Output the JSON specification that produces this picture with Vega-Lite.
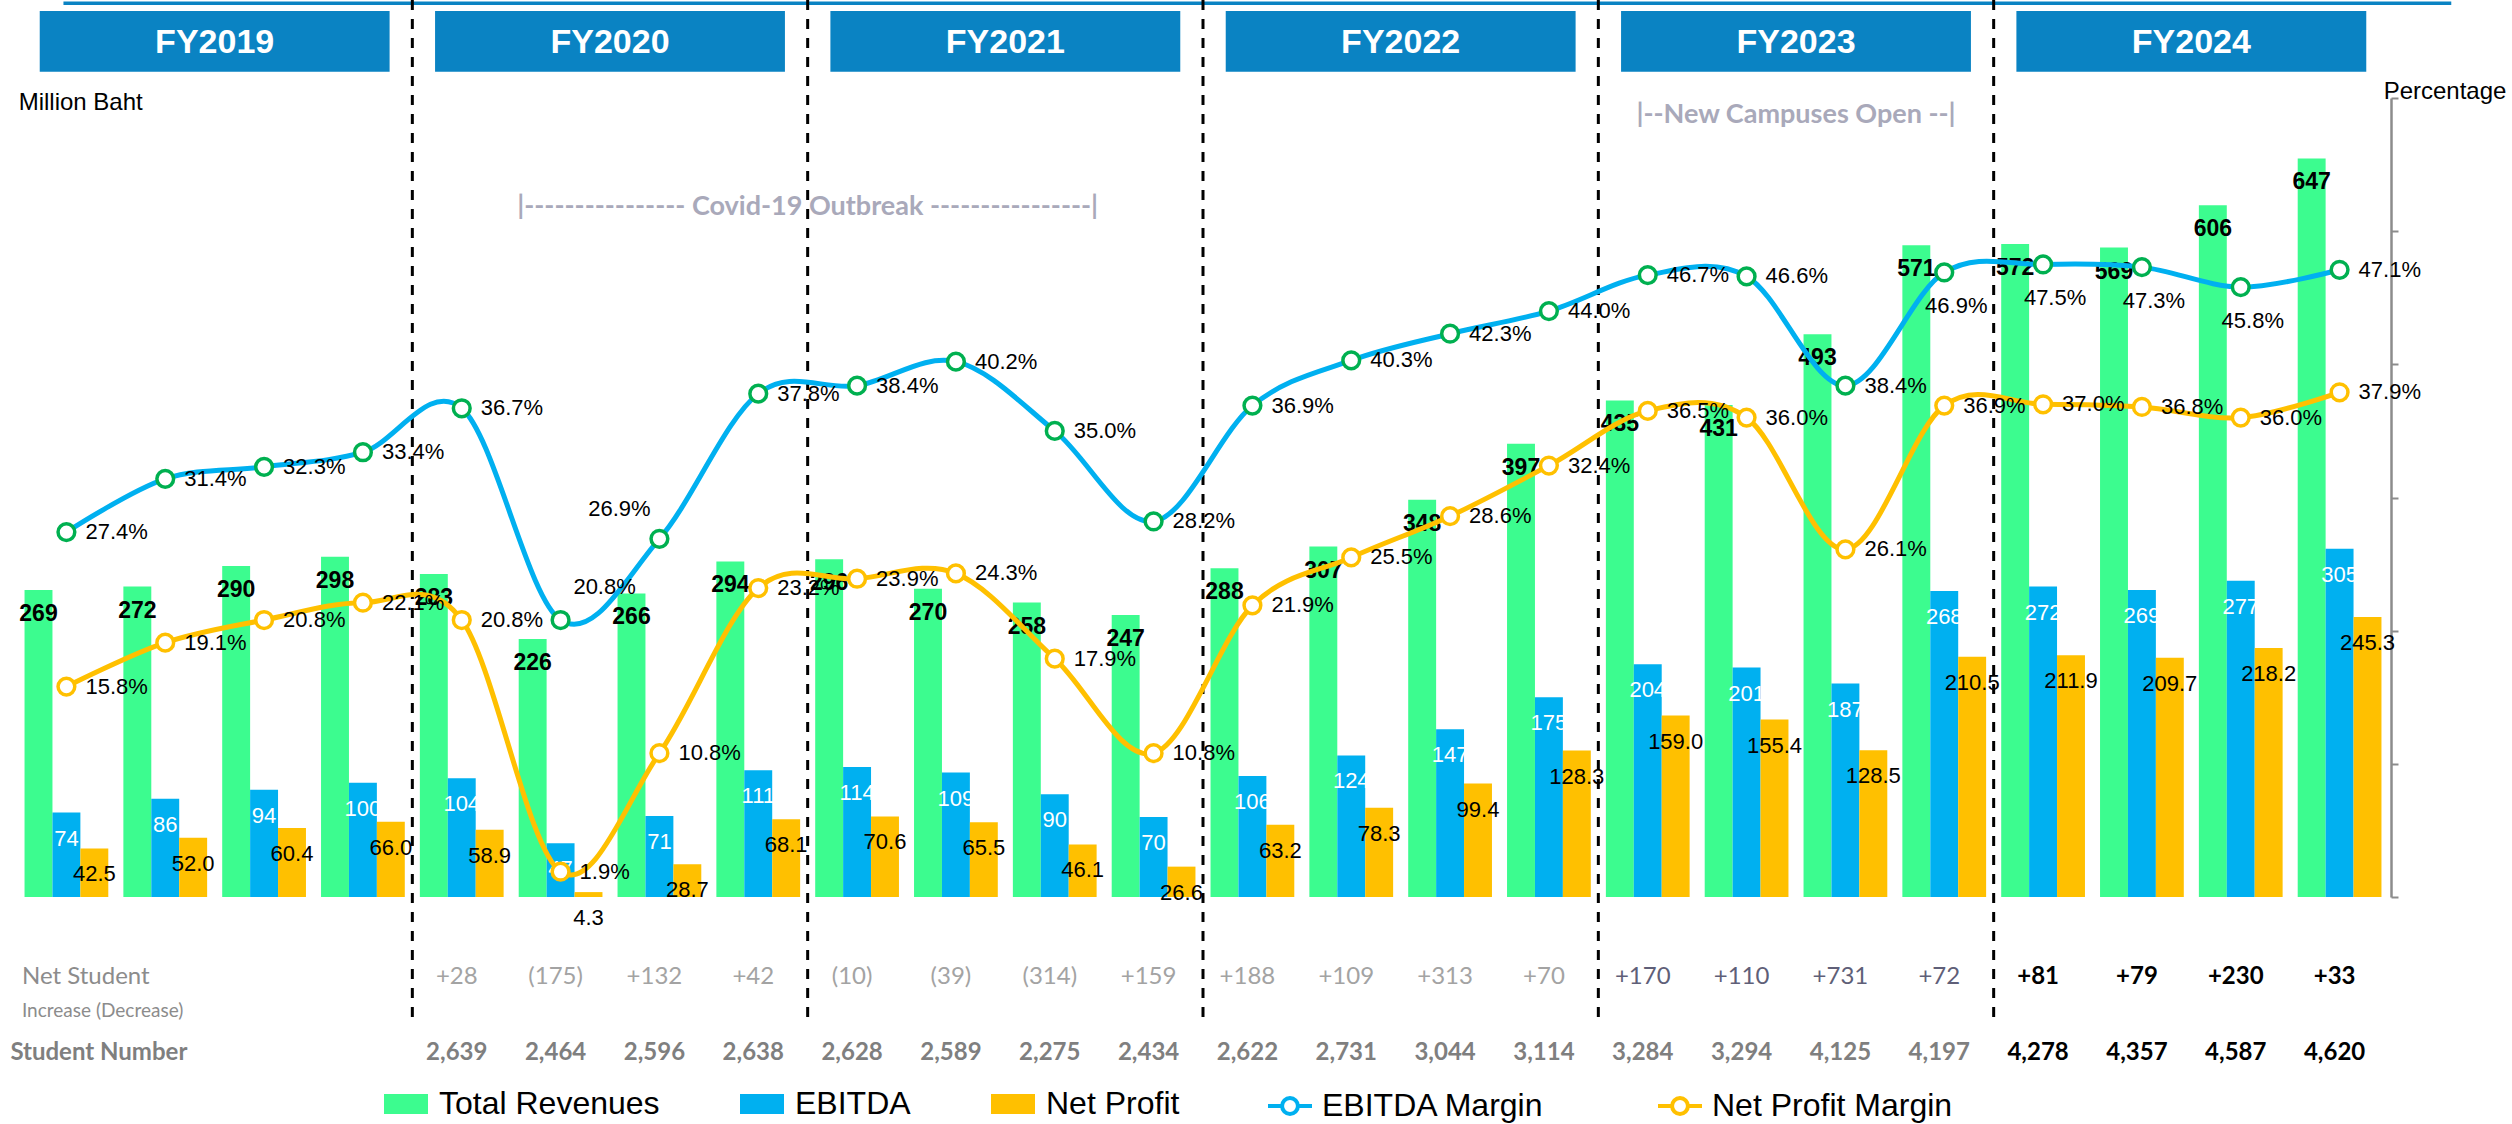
{
  "$schema": "https://vega.github.io/schema/vega-lite/v6.json",
  "width": 2372,
  "height": 799,
  "autosize": {"type": "none"},
  "padding": {"left": 17, "top": 98, "right": 123, "bottom": 227},
  "background": "white",
  "config": {"view": {"stroke": null}, "font": "Liberation Sans"},
  "datasets": {
    "bars": [
      {"quarter": "Q1-19", "series": "Total Revenues", "value": 269}, {"quarter": "Q1-19", "series": "EBITDA", "value": 74}, {"quarter": "Q1-19", "series": "Net Profit", "value": 42.5},
      {"quarter": "Q2-19", "series": "Total Revenues", "value": 272}, {"quarter": "Q2-19", "series": "EBITDA", "value": 86}, {"quarter": "Q2-19", "series": "Net Profit", "value": 52.0},
      {"quarter": "Q3-19", "series": "Total Revenues", "value": 290}, {"quarter": "Q3-19", "series": "EBITDA", "value": 94}, {"quarter": "Q3-19", "series": "Net Profit", "value": 60.4},
      {"quarter": "Q4-19", "series": "Total Revenues", "value": 298}, {"quarter": "Q4-19", "series": "EBITDA", "value": 100}, {"quarter": "Q4-19", "series": "Net Profit", "value": 66.0},
      {"quarter": "Q1-20", "series": "Total Revenues", "value": 283}, {"quarter": "Q1-20", "series": "EBITDA", "value": 104}, {"quarter": "Q1-20", "series": "Net Profit", "value": 58.9},
      {"quarter": "Q2-20", "series": "Total Revenues", "value": 226}, {"quarter": "Q2-20", "series": "EBITDA", "value": 47}, {"quarter": "Q2-20", "series": "Net Profit", "value": 4.3},
      {"quarter": "Q3-20", "series": "Total Revenues", "value": 266}, {"quarter": "Q3-20", "series": "EBITDA", "value": 71}, {"quarter": "Q3-20", "series": "Net Profit", "value": 28.7},
      {"quarter": "Q4-20", "series": "Total Revenues", "value": 294}, {"quarter": "Q4-20", "series": "EBITDA", "value": 111}, {"quarter": "Q4-20", "series": "Net Profit", "value": 68.1},
      {"quarter": "Q1-21", "series": "Total Revenues", "value": 296}, {"quarter": "Q1-21", "series": "EBITDA", "value": 114}, {"quarter": "Q1-21", "series": "Net Profit", "value": 70.6},
      {"quarter": "Q2-21", "series": "Total Revenues", "value": 270}, {"quarter": "Q2-21", "series": "EBITDA", "value": 109}, {"quarter": "Q2-21", "series": "Net Profit", "value": 65.5},
      {"quarter": "Q3-21", "series": "Total Revenues", "value": 258}, {"quarter": "Q3-21", "series": "EBITDA", "value": 90}, {"quarter": "Q3-21", "series": "Net Profit", "value": 46.1},
      {"quarter": "Q4-21", "series": "Total Revenues", "value": 247}, {"quarter": "Q4-21", "series": "EBITDA", "value": 70}, {"quarter": "Q4-21", "series": "Net Profit", "value": 26.6},
      {"quarter": "Q1-22", "series": "Total Revenues", "value": 288}, {"quarter": "Q1-22", "series": "EBITDA", "value": 106}, {"quarter": "Q1-22", "series": "Net Profit", "value": 63.2},
      {"quarter": "Q2-22", "series": "Total Revenues", "value": 307}, {"quarter": "Q2-22", "series": "EBITDA", "value": 124}, {"quarter": "Q2-22", "series": "Net Profit", "value": 78.3},
      {"quarter": "Q3-22", "series": "Total Revenues", "value": 348}, {"quarter": "Q3-22", "series": "EBITDA", "value": 147}, {"quarter": "Q3-22", "series": "Net Profit", "value": 99.4},
      {"quarter": "Q4-22", "series": "Total Revenues", "value": 397}, {"quarter": "Q4-22", "series": "EBITDA", "value": 175}, {"quarter": "Q4-22", "series": "Net Profit", "value": 128.3},
      {"quarter": "Q1-23", "series": "Total Revenues", "value": 435}, {"quarter": "Q1-23", "series": "EBITDA", "value": 204}, {"quarter": "Q1-23", "series": "Net Profit", "value": 159.0},
      {"quarter": "Q2-23", "series": "Total Revenues", "value": 431}, {"quarter": "Q2-23", "series": "EBITDA", "value": 201}, {"quarter": "Q2-23", "series": "Net Profit", "value": 155.4},
      {"quarter": "Q3-23", "series": "Total Revenues", "value": 493}, {"quarter": "Q3-23", "series": "EBITDA", "value": 187}, {"quarter": "Q3-23", "series": "Net Profit", "value": 128.5},
      {"quarter": "Q4-23", "series": "Total Revenues", "value": 571}, {"quarter": "Q4-23", "series": "EBITDA", "value": 268}, {"quarter": "Q4-23", "series": "Net Profit", "value": 210.5},
      {"quarter": "Q1-24", "series": "Total Revenues", "value": 572}, {"quarter": "Q1-24", "series": "EBITDA", "value": 272}, {"quarter": "Q1-24", "series": "Net Profit", "value": 211.9},
      {"quarter": "Q2-24", "series": "Total Revenues", "value": 569}, {"quarter": "Q2-24", "series": "EBITDA", "value": 269}, {"quarter": "Q2-24", "series": "Net Profit", "value": 209.7},
      {"quarter": "Q3-24", "series": "Total Revenues", "value": 606}, {"quarter": "Q3-24", "series": "EBITDA", "value": 277}, {"quarter": "Q3-24", "series": "Net Profit", "value": 218.2},
      {"quarter": "Q4-24", "series": "Total Revenues", "value": 647}, {"quarter": "Q4-24", "series": "EBITDA", "value": 305}, {"quarter": "Q4-24", "series": "Net Profit", "value": 245.3}
    ],
    "margins": [
      {"quarter": "Q1-19", "series": "EBITDA Margin", "value": 0.274}, {"quarter": "Q1-19", "series": "Net Profit Margin", "value": 0.158},
      {"quarter": "Q2-19", "series": "EBITDA Margin", "value": 0.314}, {"quarter": "Q2-19", "series": "Net Profit Margin", "value": 0.191},
      {"quarter": "Q3-19", "series": "EBITDA Margin", "value": 0.323}, {"quarter": "Q3-19", "series": "Net Profit Margin", "value": 0.208},
      {"quarter": "Q4-19", "series": "EBITDA Margin", "value": 0.334}, {"quarter": "Q4-19", "series": "Net Profit Margin", "value": 0.221},
      {"quarter": "Q1-20", "series": "EBITDA Margin", "value": 0.367}, {"quarter": "Q1-20", "series": "Net Profit Margin", "value": 0.208},
      {"quarter": "Q2-20", "series": "EBITDA Margin", "value": 0.208}, {"quarter": "Q2-20", "series": "Net Profit Margin", "value": 0.019},
      {"quarter": "Q3-20", "series": "EBITDA Margin", "value": 0.269}, {"quarter": "Q3-20", "series": "Net Profit Margin", "value": 0.108},
      {"quarter": "Q4-20", "series": "EBITDA Margin", "value": 0.378}, {"quarter": "Q4-20", "series": "Net Profit Margin", "value": 0.232},
      {"quarter": "Q1-21", "series": "EBITDA Margin", "value": 0.384}, {"quarter": "Q1-21", "series": "Net Profit Margin", "value": 0.239},
      {"quarter": "Q2-21", "series": "EBITDA Margin", "value": 0.402}, {"quarter": "Q2-21", "series": "Net Profit Margin", "value": 0.243},
      {"quarter": "Q3-21", "series": "EBITDA Margin", "value": 0.350}, {"quarter": "Q3-21", "series": "Net Profit Margin", "value": 0.179},
      {"quarter": "Q4-21", "series": "EBITDA Margin", "value": 0.282}, {"quarter": "Q4-21", "series": "Net Profit Margin", "value": 0.108},
      {"quarter": "Q1-22", "series": "EBITDA Margin", "value": 0.369}, {"quarter": "Q1-22", "series": "Net Profit Margin", "value": 0.219},
      {"quarter": "Q2-22", "series": "EBITDA Margin", "value": 0.403}, {"quarter": "Q2-22", "series": "Net Profit Margin", "value": 0.255},
      {"quarter": "Q3-22", "series": "EBITDA Margin", "value": 0.423}, {"quarter": "Q3-22", "series": "Net Profit Margin", "value": 0.286},
      {"quarter": "Q4-22", "series": "EBITDA Margin", "value": 0.440}, {"quarter": "Q4-22", "series": "Net Profit Margin", "value": 0.324},
      {"quarter": "Q1-23", "series": "EBITDA Margin", "value": 0.467}, {"quarter": "Q1-23", "series": "Net Profit Margin", "value": 0.365},
      {"quarter": "Q2-23", "series": "EBITDA Margin", "value": 0.466}, {"quarter": "Q2-23", "series": "Net Profit Margin", "value": 0.360},
      {"quarter": "Q3-23", "series": "EBITDA Margin", "value": 0.384}, {"quarter": "Q3-23", "series": "Net Profit Margin", "value": 0.261},
      {"quarter": "Q4-23", "series": "EBITDA Margin", "value": 0.469}, {"quarter": "Q4-23", "series": "Net Profit Margin", "value": 0.369},
      {"quarter": "Q1-24", "series": "EBITDA Margin", "value": 0.475}, {"quarter": "Q1-24", "series": "Net Profit Margin", "value": 0.370},
      {"quarter": "Q2-24", "series": "EBITDA Margin", "value": 0.473}, {"quarter": "Q2-24", "series": "Net Profit Margin", "value": 0.368},
      {"quarter": "Q3-24", "series": "EBITDA Margin", "value": 0.458}, {"quarter": "Q3-24", "series": "Net Profit Margin", "value": 0.360},
      {"quarter": "Q4-24", "series": "EBITDA Margin", "value": 0.471}, {"quarter": "Q4-24", "series": "Net Profit Margin", "value": 0.379}
    ],
    "students": [
      {"quarter": "Q1-20", "fy": "FY2020", "net": 28, "students": 2639},
      {"quarter": "Q2-20", "fy": "FY2020", "net": -175, "students": 2464},
      {"quarter": "Q3-20", "fy": "FY2020", "net": 132, "students": 2596},
      {"quarter": "Q4-20", "fy": "FY2020", "net": 42, "students": 2638},
      {"quarter": "Q1-21", "fy": "FY2021", "net": -10, "students": 2628},
      {"quarter": "Q2-21", "fy": "FY2021", "net": -39, "students": 2589},
      {"quarter": "Q3-21", "fy": "FY2021", "net": -314, "students": 2275},
      {"quarter": "Q4-21", "fy": "FY2021", "net": 159, "students": 2434},
      {"quarter": "Q1-22", "fy": "FY2022", "net": 188, "students": 2622},
      {"quarter": "Q2-22", "fy": "FY2022", "net": 109, "students": 2731},
      {"quarter": "Q3-22", "fy": "FY2022", "net": 313, "students": 3044},
      {"quarter": "Q4-22", "fy": "FY2022", "net": 70, "students": 3114},
      {"quarter": "Q1-23", "fy": "FY2023", "net": 170, "students": 3284},
      {"quarter": "Q2-23", "fy": "FY2023", "net": 110, "students": 3294},
      {"quarter": "Q3-23", "fy": "FY2023", "net": 731, "students": 4125},
      {"quarter": "Q4-23", "fy": "FY2023", "net": 72, "students": 4197},
      {"quarter": "Q1-24", "fy": "FY2024", "net": 81, "students": 4278},
      {"quarter": "Q2-24", "fy": "FY2024", "net": 79, "students": 4357},
      {"quarter": "Q3-24", "fy": "FY2024", "net": 230, "students": 4587},
      {"quarter": "Q4-24", "fy": "FY2024", "net": 33, "students": 4620}
    ],
    "fy": [
      {"fy": "FY2019", "first": "Q1-19", "last": "Q4-19"},
      {"fy": "FY2020", "first": "Q1-20", "last": "Q4-20"},
      {"fy": "FY2021", "first": "Q1-21", "last": "Q4-21"},
      {"fy": "FY2022", "first": "Q1-22", "last": "Q4-22"},
      {"fy": "FY2023", "first": "Q1-23", "last": "Q4-23"},
      {"fy": "FY2024", "first": "Q1-24", "last": "Q4-24"}
    ]
  },
  "layer": [
    {
      "layer": [
        {
          "data": {"name": "bars"},
          "transform": [{"filter": "datum.series != 'Net Profit'"}],
          "mark": {"type": "bar"},
          "encoding": {
            "x": {"field": "quarter", "type": "nominal", "scale": {"type": "band", "domain": ["Q1-19","Q2-19","Q3-19","Q4-19","Q1-20","Q2-20","Q3-20","Q4-20","Q1-21","Q2-21","Q3-21","Q4-21","Q1-22","Q2-22","Q3-22","Q4-22","Q1-23","Q2-23","Q3-23","Q4-23","Q1-24","Q2-24","Q3-24","Q4-24"], "paddingInner": 0, "paddingOuter": 0},
              "axis": {"title": null, "labelAngle": 0, "labelFontSize": 20, "labelColor": "#000000", "labelFont": "Liberation Sans", "ticks": false, "tickSize": 0, "domainColor": "#8C8C8C", "domainWidth": 3, "labelPadding": 17, "grid": false}},
            "xOffset": {"field": "series", "type": "nominal", "scale": {"domain": ["Total Revenues", "EBITDA", "Net Profit"], "paddingInner": 0, "paddingOuter": 0.27}},
            "y": {"field": "value", "type": "quantitative", "scale": {"domain": [0, 700], "nice": false, "zero": false}, "axis": null},
            "color": {"field": "series", "type": "nominal", "scale": {"domain": ["Total Revenues", "EBITDA", "Net Profit"], "range": ["#3CFC8F", "#00B0F0", "#FFC000"]},
              "legend": {"orient": "none", "legendX": 367, "legendY": 984, "direction": "horizontal", "title": null, "labelFontSize": 32, "labelFont": "Liberation Sans", "labelColor": "#000000", "labelLimit": 600, "symbolType": "M-1,-0.45H1V0.45H-1Z", "symbolSize": 1936, "symbolStrokeWidth": 0, "labelOffset": 11, "columnPadding": 80, "padding": 0}}
          }
        },
        {
          "data": {"name": "bars"},
          "transform": [{"filter": "datum.series == 'EBITDA'"}],
          "mark": {"type": "text", "color": "#FFFFFF", "fontSize": 22, "baseline": "middle", "dy": 26},
          "encoding": {
            "x": {"field": "quarter", "type": "nominal", "scale": {"type": "band", "domain": ["Q1-19","Q2-19","Q3-19","Q4-19","Q1-20","Q2-20","Q3-20","Q4-20","Q1-21","Q2-21","Q3-21","Q4-21","Q1-22","Q2-22","Q3-22","Q4-22","Q1-23","Q2-23","Q3-23","Q4-23","Q1-24","Q2-24","Q3-24","Q4-24"], "paddingInner": 0, "paddingOuter": 0}, "axis": null},
            "xOffset": {"field": "series", "type": "nominal", "scale": {"domain": ["Total Revenues", "EBITDA", "Net Profit"], "paddingInner": 0, "paddingOuter": 0.27}},
            "y": {"field": "value", "type": "quantitative", "scale": {"domain": [0, 700], "nice": false, "zero": false}, "axis": null},
            "text": {"field": "value", "type": "quantitative", "format": "d"}
          }
        },
        {
          "data": {"name": "bars"},
          "transform": [{"filter": "datum.series == 'Net Profit'"}],
          "mark": {"type": "bar"},
          "encoding": {
            "x": {"field": "quarter", "type": "nominal", "scale": {"type": "band", "domain": ["Q1-19","Q2-19","Q3-19","Q4-19","Q1-20","Q2-20","Q3-20","Q4-20","Q1-21","Q2-21","Q3-21","Q4-21","Q1-22","Q2-22","Q3-22","Q4-22","Q1-23","Q2-23","Q3-23","Q4-23","Q1-24","Q2-24","Q3-24","Q4-24"], "paddingInner": 0, "paddingOuter": 0}, "axis": null},
            "xOffset": {"field": "series", "type": "nominal", "scale": {"domain": ["Total Revenues", "EBITDA", "Net Profit"], "paddingInner": 0, "paddingOuter": 0.27}},
            "y": {"field": "value", "type": "quantitative", "scale": {"domain": [0, 700], "nice": false, "zero": false}, "axis": null},
            "color": {"field": "series", "type": "nominal", "scale": {"domain": ["Total Revenues", "EBITDA", "Net Profit"], "range": ["#3CFC8F", "#00B0F0", "#FFC000"]}}
          }
        },
        {
          "data": {"name": "bars"},
          "transform": [{"filter": "datum.series == 'Total Revenues'"}],
          "mark": {"type": "text", "color": "#000000", "fontSize": 23, "fontWeight": "bold", "baseline": "middle", "dy": 24},
          "encoding": {
            "x": {"field": "quarter", "type": "nominal", "scale": {"type": "band", "domain": ["Q1-19","Q2-19","Q3-19","Q4-19","Q1-20","Q2-20","Q3-20","Q4-20","Q1-21","Q2-21","Q3-21","Q4-21","Q1-22","Q2-22","Q3-22","Q4-22","Q1-23","Q2-23","Q3-23","Q4-23","Q1-24","Q2-24","Q3-24","Q4-24"], "paddingInner": 0, "paddingOuter": 0}, "axis": null},
            "xOffset": {"field": "series", "type": "nominal", "scale": {"domain": ["Total Revenues", "EBITDA", "Net Profit"], "paddingInner": 0, "paddingOuter": 0.27}},
            "y": {"field": "value", "type": "quantitative", "scale": {"domain": [0, 700], "nice": false, "zero": false}, "axis": null},
            "text": {"field": "value", "type": "quantitative", "format": "d"}
          }
        },
        {
          "data": {"name": "bars"},
          "transform": [{"filter": "datum.series == 'Net Profit'"}],
          "mark": {"type": "text", "color": "#000000", "fontSize": 22, "baseline": "middle", "dy": 26},
          "encoding": {
            "x": {"field": "quarter", "type": "nominal", "scale": {"type": "band", "domain": ["Q1-19","Q2-19","Q3-19","Q4-19","Q1-20","Q2-20","Q3-20","Q4-20","Q1-21","Q2-21","Q3-21","Q4-21","Q1-22","Q2-22","Q3-22","Q4-22","Q1-23","Q2-23","Q3-23","Q4-23","Q1-24","Q2-24","Q3-24","Q4-24"], "paddingInner": 0, "paddingOuter": 0}, "axis": null},
            "xOffset": {"field": "series", "type": "nominal", "scale": {"domain": ["Total Revenues", "EBITDA", "Net Profit"], "paddingInner": 0, "paddingOuter": 0.27}},
            "y": {"field": "value", "type": "quantitative", "scale": {"domain": [0, 700], "nice": false, "zero": false}, "axis": null},
            "text": {"field": "value", "type": "quantitative", "format": ".1f"}
          }
        },
        {
          "data": {"name": "fy"},
          "mark": {"type": "rect", "color": "#0A83C3"},
          "encoding": {
            "x": {"field": "first", "type": "nominal", "bandPosition": 0.23, "scale": {"type": "band", "domain": ["Q1-19","Q2-19","Q3-19","Q4-19","Q1-20","Q2-20","Q3-20","Q4-20","Q1-21","Q2-21","Q3-21","Q4-21","Q1-22","Q2-22","Q3-22","Q4-22","Q1-23","Q2-23","Q3-23","Q4-23","Q1-24","Q2-24","Q3-24","Q4-24"], "paddingInner": 0, "paddingOuter": 0}, "axis": null},
            "x2": {"field": "last", "bandPosition": 0.77},
            "y": {"datum": 776.2, "type": "quantitative", "scale": {"domain": [0, 700], "nice": false, "zero": false}, "axis": null},
            "y2": {"datum": 723.1}
          }
        },
        {
          "data": {"name": "fy"},
          "mark": {"type": "text", "color": "#FFFFFF", "fontSize": 34, "fontWeight": "bold", "baseline": "middle", "align": "center"},
          "encoding": {
            "x": {"field": "first", "type": "nominal", "bandPosition": 2, "scale": {"type": "band", "domain": ["Q1-19","Q2-19","Q3-19","Q4-19","Q1-20","Q2-20","Q3-20","Q4-20","Q1-21","Q2-21","Q3-21","Q4-21","Q1-22","Q2-22","Q3-22","Q4-22","Q1-23","Q2-23","Q3-23","Q4-23","Q1-24","Q2-24","Q3-24","Q4-24"], "paddingInner": 0, "paddingOuter": 0}, "axis": null},
            "y": {"datum": 748.4, "type": "quantitative", "scale": {"domain": [0, 700], "nice": false, "zero": false}, "axis": null},
            "text": {"field": "fy", "type": "nominal"}
          }
        },
        {
          "data": {"values": [{"from": "Q1-19", "to": "Q4-24"}]},
          "mark": {"type": "rule", "color": "#0A83C3", "strokeWidth": 3.5},
          "encoding": {
            "x": {"field": "from", "type": "nominal", "bandPosition": 0.47, "scale": {"type": "band", "domain": ["Q1-19","Q2-19","Q3-19","Q4-19","Q1-20","Q2-20","Q3-20","Q4-20","Q1-21","Q2-21","Q3-21","Q4-21","Q1-22","Q2-22","Q3-22","Q4-22","Q1-23","Q2-23","Q3-23","Q4-23","Q1-24","Q2-24","Q3-24","Q4-24"], "paddingInner": 0, "paddingOuter": 0}, "axis": null},
            "x2": {"field": "to", "bandPosition": 1.63},
            "y": {"datum": 783.0, "type": "quantitative", "scale": {"domain": [0, 700], "nice": false, "zero": false}, "axis": null}
          }
        },
        {
          "data": {"values": [{"label": "|---------------- Covid-19 Outbreak ----------------|", "anchor": "Q1-21"}]},
          "mark": {"type": "text", "font": "Lato", "fontWeight": "bold", "fontSize": 27, "color": "#A9A9BA", "align": "center", "baseline": "middle"},
          "encoding": {
            "x": {"field": "anchor", "type": "nominal", "bandPosition": 0, "scale": {"type": "band", "domain": ["Q1-19","Q2-19","Q3-19","Q4-19","Q1-20","Q2-20","Q3-20","Q4-20","Q1-21","Q2-21","Q3-21","Q4-21","Q1-22","Q2-22","Q3-22","Q4-22","Q1-23","Q2-23","Q3-23","Q4-23","Q1-24","Q2-24","Q3-24","Q4-24"], "paddingInner": 0, "paddingOuter": 0}, "axis": null},
            "y": {"datum": 604.5, "type": "quantitative", "scale": {"domain": [0, 700], "nice": false, "zero": false}, "axis": null},
            "text": {"field": "label", "type": "nominal"}
          }
        },
        {
          "data": {"values": [{"label": "|--New Campuses Open --|", "anchor": "Q3-23"}]},
          "mark": {"type": "text", "font": "Lato", "fontWeight": "bold", "fontSize": 27, "color": "#A9A9BA", "align": "center", "baseline": "middle"},
          "encoding": {
            "x": {"field": "anchor", "type": "nominal", "bandPosition": 0, "scale": {"type": "band", "domain": ["Q1-19","Q2-19","Q3-19","Q4-19","Q1-20","Q2-20","Q3-20","Q4-20","Q1-21","Q2-21","Q3-21","Q4-21","Q1-22","Q2-22","Q3-22","Q4-22","Q1-23","Q2-23","Q3-23","Q4-23","Q1-24","Q2-24","Q3-24","Q4-24"], "paddingInner": 0, "paddingOuter": 0}, "axis": null},
            "y": {"datum": 685.2, "type": "quantitative", "scale": {"domain": [0, 700], "nice": false, "zero": false}, "axis": null},
            "text": {"field": "label", "type": "nominal"}
          }
        },
        {
          "data": {"values": [{"label": "Million Baht", "anchor": "Q1-19"}]},
          "mark": {"type": "text", "fontSize": 24, "color": "#000000", "align": "left", "baseline": "middle"},
          "encoding": {
            "x": {"field": "anchor", "type": "nominal", "bandPosition": 0.017, "scale": {"type": "band", "domain": ["Q1-19","Q2-19","Q3-19","Q4-19","Q1-20","Q2-20","Q3-20","Q4-20","Q1-21","Q2-21","Q3-21","Q4-21","Q1-22","Q2-22","Q3-22","Q4-22","Q1-23","Q2-23","Q3-23","Q4-23","Q1-24","Q2-24","Q3-24","Q4-24"], "paddingInner": 0, "paddingOuter": 0}, "axis": null},
            "y": {"datum": 695.9, "type": "quantitative", "scale": {"domain": [0, 700], "nice": false, "zero": false}, "axis": null},
            "text": {"field": "label", "type": "nominal"}
          }
        },
        {
          "data": {"values": [{"label": "Percentage", "anchor": "Q4-24"}]},
          "mark": {"type": "text", "fontSize": 24, "color": "#000000", "align": "left", "baseline": "middle"},
          "encoding": {
            "x": {"field": "anchor", "type": "nominal", "bandPosition": 0.946, "scale": {"type": "band", "domain": ["Q1-19","Q2-19","Q3-19","Q4-19","Q1-20","Q2-20","Q3-20","Q4-20","Q1-21","Q2-21","Q3-21","Q4-21","Q1-22","Q2-22","Q3-22","Q4-22","Q1-23","Q2-23","Q3-23","Q4-23","Q1-24","Q2-24","Q3-24","Q4-24"], "paddingInner": 0, "paddingOuter": 0}, "axis": null},
            "y": {"datum": 705.3, "type": "quantitative", "scale": {"domain": [0, 700], "nice": false, "zero": false}, "axis": null},
            "text": {"field": "label", "type": "nominal"}
          }
        },
        {
          "data": {"values": [{"label": "Net Student", "anchor": "Q1-19"}]},
          "mark": {"type": "text", "font": "Lato", "fontSize": 24, "color": "#8C8C8C", "align": "left", "baseline": "middle"},
          "encoding": {
            "x": {"field": "anchor", "type": "nominal", "bandPosition": 0.05, "scale": {"type": "band", "domain": ["Q1-19","Q2-19","Q3-19","Q4-19","Q1-20","Q2-20","Q3-20","Q4-20","Q1-21","Q2-21","Q3-21","Q4-21","Q1-22","Q2-22","Q3-22","Q4-22","Q1-23","Q2-23","Q3-23","Q4-23","Q1-24","Q2-24","Q3-24","Q4-24"], "paddingInner": 0, "paddingOuter": 0}, "axis": null},
            "y": {"datum": -69.8, "type": "quantitative", "scale": {"domain": [0, 700], "nice": false, "zero": false}, "axis": null},
            "text": {"field": "label", "type": "nominal"}
          }
        },
        {
          "data": {"values": [{"label": "Increase (Decrease)", "anchor": "Q1-19"}]},
          "mark": {"type": "text", "font": "Lato", "fontSize": 19, "color": "#8C8C8C", "align": "left", "baseline": "middle"},
          "encoding": {
            "x": {"field": "anchor", "type": "nominal", "bandPosition": 0.05, "scale": {"type": "band", "domain": ["Q1-19","Q2-19","Q3-19","Q4-19","Q1-20","Q2-20","Q3-20","Q4-20","Q1-21","Q2-21","Q3-21","Q4-21","Q1-22","Q2-22","Q3-22","Q4-22","Q1-23","Q2-23","Q3-23","Q4-23","Q1-24","Q2-24","Q3-24","Q4-24"], "paddingInner": 0, "paddingOuter": 0}, "axis": null},
            "y": {"datum": -99.6, "type": "quantitative", "scale": {"domain": [0, 700], "nice": false, "zero": false}, "axis": null},
            "text": {"field": "label", "type": "nominal"}
          }
        },
        {
          "data": {"values": [{"label": "Student Number", "anchor": "Q1-19"}]},
          "mark": {"type": "text", "font": "Lato", "fontSize": 24, "fontWeight": "bold", "color": "#7F7F7F", "align": "left", "baseline": "middle"},
          "encoding": {
            "x": {"field": "anchor", "type": "nominal", "bandPosition": -0.067, "scale": {"type": "band", "domain": ["Q1-19","Q2-19","Q3-19","Q4-19","Q1-20","Q2-20","Q3-20","Q4-20","Q1-21","Q2-21","Q3-21","Q4-21","Q1-22","Q2-22","Q3-22","Q4-22","Q1-23","Q2-23","Q3-23","Q4-23","Q1-24","Q2-24","Q3-24","Q4-24"], "paddingInner": 0, "paddingOuter": 0}, "axis": null},
            "y": {"datum": -136.9, "type": "quantitative", "scale": {"domain": [0, 700], "nice": false, "zero": false}, "axis": null},
            "text": {"field": "label", "type": "nominal"}
          }
        },
        {
          "data": {"name": "students"},
          "transform": [{"filter": "datum.fy != 'FY2024' && datum.net >= 0"}],
          "mark": {"type": "text", "font": "Lato", "fontSize": 24, "align": "center", "baseline": "middle", "dx": -5},
          "encoding": {
            "x": {"field": "quarter", "type": "nominal", "scale": {"type": "band", "domain": ["Q1-19","Q2-19","Q3-19","Q4-19","Q1-20","Q2-20","Q3-20","Q4-20","Q1-21","Q2-21","Q3-21","Q4-21","Q1-22","Q2-22","Q3-22","Q4-22","Q1-23","Q2-23","Q3-23","Q4-23","Q1-24","Q2-24","Q3-24","Q4-24"], "paddingInner": 0, "paddingOuter": 0}, "axis": null},
            "y": {"datum": -69.8, "type": "quantitative", "scale": {"domain": [0, 700], "nice": false, "zero": false}, "axis": null},
            "color": {"condition": {"test": "datum.fy == 'FY2023'", "value": "#5F5F78"}, "value": "#A3A3A3"},
            "text": {"field": "net", "type": "quantitative", "format": "+d"}
          }
        },
        {
          "data": {"name": "students"},
          "transform": [{"filter": "datum.net < 0"}],
          "mark": {"type": "text", "font": "Lato", "fontSize": 24, "align": "center", "baseline": "middle", "dx": -5, "color": "#A3A3A3"},
          "encoding": {
            "x": {"field": "quarter", "type": "nominal", "scale": {"type": "band", "domain": ["Q1-19","Q2-19","Q3-19","Q4-19","Q1-20","Q2-20","Q3-20","Q4-20","Q1-21","Q2-21","Q3-21","Q4-21","Q1-22","Q2-22","Q3-22","Q4-22","Q1-23","Q2-23","Q3-23","Q4-23","Q1-24","Q2-24","Q3-24","Q4-24"], "paddingInner": 0, "paddingOuter": 0}, "axis": null},
            "y": {"datum": -69.8, "type": "quantitative", "scale": {"domain": [0, 700], "nice": false, "zero": false}, "axis": null},
            "text": {"field": "net", "type": "quantitative", "format": "(d"}
          }
        },
        {
          "data": {"name": "students"},
          "transform": [{"filter": "datum.fy == 'FY2024'"}],
          "mark": {"type": "text", "font": "Lato", "fontSize": 24, "fontWeight": "bold", "align": "center", "baseline": "middle", "dx": -5, "color": "#000000"},
          "encoding": {
            "x": {"field": "quarter", "type": "nominal", "scale": {"type": "band", "domain": ["Q1-19","Q2-19","Q3-19","Q4-19","Q1-20","Q2-20","Q3-20","Q4-20","Q1-21","Q2-21","Q3-21","Q4-21","Q1-22","Q2-22","Q3-22","Q4-22","Q1-23","Q2-23","Q3-23","Q4-23","Q1-24","Q2-24","Q3-24","Q4-24"], "paddingInner": 0, "paddingOuter": 0}, "axis": null},
            "y": {"datum": -69.8, "type": "quantitative", "scale": {"domain": [0, 700], "nice": false, "zero": false}, "axis": null},
            "text": {"field": "net", "type": "quantitative", "format": "+d"}
          }
        },
        {
          "data": {"name": "students"},
          "mark": {"type": "text", "font": "Lato", "fontSize": 24, "fontWeight": "bold", "align": "center", "baseline": "middle", "dx": -5},
          "encoding": {
            "x": {"field": "quarter", "type": "nominal", "scale": {"type": "band", "domain": ["Q1-19","Q2-19","Q3-19","Q4-19","Q1-20","Q2-20","Q3-20","Q4-20","Q1-21","Q2-21","Q3-21","Q4-21","Q1-22","Q2-22","Q3-22","Q4-22","Q1-23","Q2-23","Q3-23","Q4-23","Q1-24","Q2-24","Q3-24","Q4-24"], "paddingInner": 0, "paddingOuter": 0}, "axis": null},
            "y": {"datum": -136.9, "type": "quantitative", "scale": {"domain": [0, 700], "nice": false, "zero": false}, "axis": null},
            "color": {"condition": {"test": "datum.fy == 'FY2024'", "value": "#000000"}, "value": "#7F7F7F"},
            "text": {"field": "students", "type": "quantitative", "format": ",d"}
          }
        },
        {
          "data": {"name": "fy"},
          "transform": [{"filter": "datum.fy != 'FY2019'"}],
          "mark": {"type": "rule", "color": "#000000", "strokeWidth": 3, "strokeDash": [10, 9]},
          "encoding": {
            "x": {"field": "first", "type": "nominal", "bandPosition": 0, "scale": {"type": "band", "domain": ["Q1-19","Q2-19","Q3-19","Q4-19","Q1-20","Q2-20","Q3-20","Q4-20","Q1-21","Q2-21","Q3-21","Q4-21","Q1-22","Q2-22","Q3-22","Q4-22","Q1-23","Q2-23","Q3-23","Q4-23","Q1-24","Q2-24","Q3-24","Q4-24"], "paddingInner": 0, "paddingOuter": 0}, "axis": null},
            "y": {"datum": 785.9, "type": "quantitative", "scale": {"domain": [0, 700], "nice": false, "zero": false}, "axis": null},
            "y2": {"datum": -107.8}
          }
        }
      ]
    },
    {
      "data": {"name": "margins"},
      "encoding": {
        "x": {"field": "quarter", "type": "nominal", "scale": {"type": "band", "domain": ["Q1-19","Q2-19","Q3-19","Q4-19","Q1-20","Q2-20","Q3-20","Q4-20","Q1-21","Q2-21","Q3-21","Q4-21","Q1-22","Q2-22","Q3-22","Q4-22","Q1-23","Q2-23","Q3-23","Q4-23","Q1-24","Q2-24","Q3-24","Q4-24"], "paddingInner": 0, "paddingOuter": 0}, "axis": null},
        "y": {"field": "value", "type": "quantitative", "scale": {"domain": [0, 0.6], "nice": false, "zero": false},
          "axis": {"orient": "right", "title": null, "labels": false, "ticks": true, "tickSize": 7, "tickWidth": 2, "tickColor": "#8C8C8C", "domainColor": "#8C8C8C", "domainWidth": 2.5, "values": [0, 0.1, 0.2, 0.3, 0.4, 0.5, 0.6], "grid": false, "offset": 2}}
      },
      "layer": [
        {
          "mark": {"type": "line", "interpolate": "cardinal", "strokeWidth": 5},
          "encoding": {
            "stroke": {"field": "series", "type": "nominal", "scale": {"domain": ["EBITDA Margin", "Net Profit Margin"], "range": ["#00B0F0", "#FFC000"]},
              "legend": {"orient": "none", "legendX": 1249, "legendY": 984, "direction": "horizontal", "title": null, "labelFontSize": 32, "labelFont": "Liberation Sans", "labelColor": "#000000", "labelLimit": 600, "symbolType": "M-1,0H-0.36M0.36,0H1M0.36,0A0.36,0.36 0 1,1 -0.36,0A0.36,0.36 0 1,1 0.36,0", "symbolSize": 1936, "symbolStrokeWidth": 4, "symbolFillColor": "#FFFFFF", "labelOffset": 8, "columnPadding": 105, "padding": 0}}
          }
        },
        {
          "mark": {"type": "point", "shape": "circle", "filled": true, "fill": "#FFFFFF", "size": 280, "strokeWidth": 3.5, "opacity": 1},
          "encoding": {
            "stroke": {"condition": {"test": "datum.series == 'EBITDA Margin'", "value": "#00B050"}, "value": "#FFC000"}
          }
        },
        {
          "transform": [{"filter": "!(datum.series == 'EBITDA Margin' && indexof(['Q2-20','Q3-20','Q4-23','Q1-24','Q2-24','Q3-24'], datum.quarter) >= 0)"}],
          "mark": {"type": "text", "align": "left", "baseline": "middle", "dx": 19, "fontSize": 22, "color": "#000000"},
          "encoding": {
            "text": {"field": "value", "type": "quantitative", "format": ".1%"}
          }
        },
        {
          "transform": [{"filter": "datum.series == 'EBITDA Margin' && indexof(['Q4-23','Q1-24','Q2-24','Q3-24'], datum.quarter) >= 0"}],
          "mark": {"type": "text", "align": "center", "baseline": "middle", "dx": 12, "dy": 34, "fontSize": 22, "color": "#000000"},
          "encoding": {
            "text": {"field": "value", "type": "quantitative", "format": ".1%"}
          }
        },
        {
          "transform": [{"filter": "datum.series == 'EBITDA Margin' && datum.quarter == 'Q2-20'"}],
          "mark": {"type": "text", "align": "center", "baseline": "middle", "dx": 44, "dy": -33, "fontSize": 22, "color": "#000000"},
          "encoding": {
            "text": {"field": "value", "type": "quantitative", "format": ".1%"}
          }
        },
        {
          "transform": [{"filter": "datum.series == 'EBITDA Margin' && datum.quarter == 'Q3-20'"}],
          "mark": {"type": "text", "align": "center", "baseline": "middle", "dx": -40, "dy": -30, "fontSize": 22, "color": "#000000"},
          "encoding": {
            "text": {"field": "value", "type": "quantitative", "format": ".1%"}
          }
        }
      ]
    }
  ],
  "resolve": {"scale": {"y": "independent"}}
}
